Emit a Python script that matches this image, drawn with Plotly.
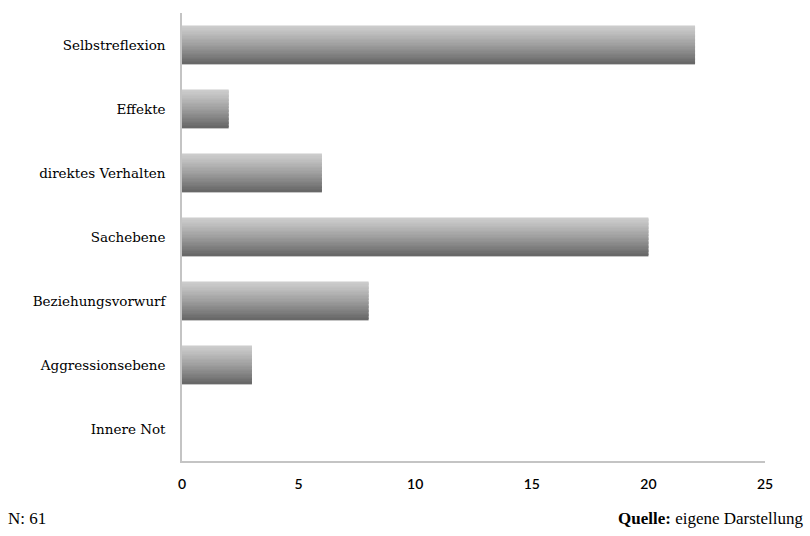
import plotly.graph_objects as go

categories = ["Selbstreflexion", "Effekte", "direktes Verhalten", "Sachebene",
              "Beziehungsvorwurf", "Aggressionsebene", "Innere Not"]
values = [22, 2, 6, 20, 8, 3, 0]
x_ticks = [0, 5, 10, 15, 20, 25]

W, H = 810, 536
L, R, T, B = 182, 45, 13, 75

bar_w = 0.59
n_strips = 28
top_rgb = (204, 204, 204)
bot_rgb = (104, 104, 104)

fig = go.Figure()

# light outline behind the bars
fig.add_trace(go.Bar(
    y=categories, x=values, orientation="h", width=bar_w + 0.03,
    marker=dict(color="#dcdcdc", line=dict(width=0)), hoverinfo="skip",
    showlegend=False,
))

s = bar_w / n_strips
for i in range(n_strips):
    t = i / (n_strips - 1)
    t = t ** 1.15
    c = tuple(round(top_rgb[k] + (bot_rgb[k] - top_rgb[k]) * t) for k in range(3))
    fig.add_trace(go.Bar(
        y=categories, x=values, orientation="h",
        width=s * 1.3, offset=-bar_w / 2 + i * s,
        marker=dict(color="rgb(%d,%d,%d)" % c, line=dict(width=0)),
        hoverinfo="skip", showlegend=False,
    ))

fig.update_layout(
    width=W, height=H,
    margin=dict(l=L, r=R, t=T, b=B),
    barmode="overlay",
    plot_bgcolor="white", paper_bgcolor="white",
    xaxis=dict(
        range=[0, 25], tickvals=x_ticks, showgrid=False, zeroline=False,
        showline=True, linecolor="#c4c4c4", linewidth=1.5,
        ticks="outside", ticklen=9, tickcolor="rgba(0,0,0,0)",
        tickfont=dict(family="Lato", size=14, color="#000", weight=600),
    ),
    yaxis=dict(
        autorange="reversed", showgrid=False, zeroline=False,
        showline=True, linecolor="#c4c4c4", linewidth=1.5,
        ticks="outside", ticklen=12, tickcolor="rgba(0,0,0,0)",
        tickfont=dict(family="DejaVu Serif", size=13.5, color="#000"),
    ),
    annotations=[
        dict(text="N: 61", xref="paper", yref="paper",
             x=(6 - L) / (W - L - R), y=(H - B - 518) / (H - T - B),
             xanchor="left", yanchor="middle", showarrow=False,
             font=dict(family="Liberation Serif", size=17, color="#000")),
        dict(text="<b>Quelle:</b> eigene Darstellung", xref="paper", yref="paper",
             x=(806 - L) / (W - L - R), y=(H - B - 518) / (H - T - B),
             xanchor="right", yanchor="middle", showarrow=False,
             font=dict(family="Liberation Serif", size=17, color="#000")),
    ],
)

fig.write_html("out.html")
